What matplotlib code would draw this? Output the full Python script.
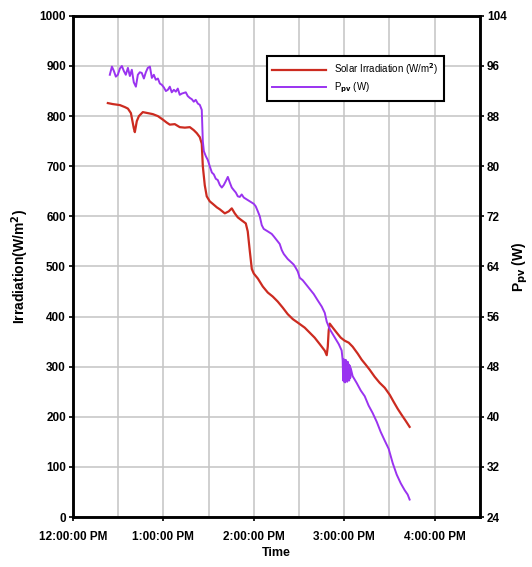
import matplotlib
matplotlib.use("Agg")
import matplotlib.pyplot as plt
from matplotlib.ticker import FixedLocator, MultipleLocator

# Minutes after 12:00:00 PM and measured solar irradiation (W/m^2)
irr_minutes = [23.2, 26.5, 31.2, 34.5, 36.5, 38.5, 40.4, 41.1, 42.4, 43.8, 46.4, 49.7,
               53.0, 56.4, 59.7, 62.3, 64.3, 67.6, 70.9, 74.3, 77.6, 80.2, 82.2, 84.2,
               85.5, 86.2, 87.5, 88.8, 90.8, 92.8, 95.5, 97.5, 100.8, 103.4, 105.4, 107.4,
               109.4, 112.0, 114.7, 116.0, 117.4, 118.7, 120.0, 122.7, 126.0, 129.3, 132.6,
               135.9, 139.2, 142.5, 145.9, 149.2, 153.8, 157.1, 160.4, 163.8, 167.1, 168.4,
               169.1, 169.7, 170.4, 172.4, 175.0, 177.7, 180.3, 183.0, 185.6, 189.0, 191.6,
               194.3, 196.9, 200.2, 203.5, 206.9, 210.2, 212.8, 215.5, 218.1, 220.8, 223.4]
irradiation = [826, 824, 822, 818, 815, 806, 776, 768, 790, 800, 808, 806,
               804, 800, 793, 787, 783, 784, 778, 777, 778, 772, 766, 758,
               745, 700, 662, 640, 630, 625, 618, 614, 606, 610, 616, 606,
               598, 592, 586, 570, 530, 495, 486, 476, 460, 448, 440,
               430, 418, 405, 395, 388, 378, 368, 358, 345, 332, 323,
               340, 372, 386, 378, 368, 358, 352, 348, 340, 326, 314,
               304, 294, 280, 268, 258, 244, 230, 216, 204, 192, 180]

# Minutes after 12:00:00 PM and PV output power (W)
pv_minutes = [24.5, 25.9, 27.2, 28.5, 29.8, 31.2, 32.5, 33.8, 35.1, 36.5, 37.8, 39.1,
              40.4, 41.8, 43.1, 44.4, 45.7, 47.1, 48.4, 49.7, 51.1, 52.4, 53.7, 55.0,
              56.4, 57.7, 59.0, 60.3, 61.7, 63.0, 64.3, 65.6, 67.0, 68.3, 69.6, 70.9,
              72.3, 73.6, 74.9, 76.2, 77.6, 78.9, 80.2, 81.5, 82.9, 84.2, 85.5, 86.2,
              86.9, 88.2, 89.5, 90.8, 92.2, 93.5, 94.8, 96.1, 97.5, 98.8, 100.1, 101.4,
              102.8, 104.1, 105.4, 106.7, 108.1, 109.4, 110.7, 112.0, 113.4, 114.7, 116.0,
              117.4, 118.7, 120.0, 121.3, 122.7, 124.0, 125.3, 126.6, 128.0, 129.3, 130.6,
              131.9, 133.3, 134.6, 135.9, 137.2, 138.6, 139.9, 141.2, 142.5, 143.9, 145.2,
              146.5, 147.8, 149.2, 150.5, 152.5, 154.5, 157.1, 159.8, 162.4, 165.1, 167.1,
              168.4, 170.4, 172.4, 174.4, 176.4, 178.3,
              179.0, 179.3, 179.7, 180.0, 180.3, 180.6, 181.0, 181.3, 181.6, 182.0, 182.3,
              182.6, 182.9, 183.3, 183.6, 184.0, 184.3,
              185.6, 188.3, 191.0, 193.6, 196.2, 198.9, 201.6, 204.2, 206.9, 209.5, 212.2,
              214.8, 217.5, 220.1, 222.1, 223.4]
pv_power = [94.6, 95.9, 95.2, 94.3, 94.6, 95.6, 96.0, 95.2, 94.6, 95.7, 94.4, 95.4,
            93.4, 92.7, 94.6, 95.0, 94.9, 94.0, 95.0, 95.7, 95.9, 94.1, 94.6, 93.8,
            94.0, 93.2, 93.0, 92.6, 92.0, 92.2, 92.7, 91.8, 92.2, 91.9, 92.4, 91.4,
            91.6, 91.7, 91.8, 91.2, 90.9, 90.7, 90.3, 90.6, 90.0, 89.8, 89.0, 84.0,
            82.4, 81.6, 81.0, 80.0, 79.0, 78.7, 78.0, 77.8, 77.0, 76.6, 77.0, 77.6,
            78.3, 77.4, 76.6, 76.2, 75.8, 75.2, 75.1, 75.5, 75.0, 74.8, 74.6,
            74.4, 74.2, 74.0, 73.6, 72.8, 72.0, 70.6, 70.0, 69.8, 69.6, 69.4,
            69.2, 68.8, 68.4, 68.0, 67.6, 66.6, 66.0, 65.6, 65.2, 64.9, 64.6,
            64.3, 63.8, 63.2, 62.2, 61.8, 61.2, 60.4, 59.6, 58.6, 57.6, 56.6,
            55.2, 54.0, 53.2, 52.4, 51.6, 50.6,
            49.0, 45.8, 49.2, 45.6, 48.9, 45.5, 49.1, 45.9, 48.7, 45.6, 48.8,
            46.0, 48.4, 45.8, 48.2, 46.2, 47.8,
            46.5, 45.4, 44.2, 43.3, 41.8, 40.6, 39.2, 37.6, 36.2, 34.9, 32.6,
            30.8, 29.4, 28.3, 27.6, 26.8]

time_ticks = [0, 60, 120, 180, 240]
time_labels = ["12:00:00 PM", "1:00:00 PM", "2:00:00 PM", "3:00:00 PM", "4:00:00 PM"]

RED = "#cc2b20"
PURPLE = "#9a33f0"
FONT = ["Liberation Sans Narrow", "Liberation Sans", "DejaVu Sans"]
plt.rcParams["font.family"] = FONT
plt.rcParams["font.weight"] = "bold"

fig = plt.figure(figsize=(5.32, 5.67), dpi=100)
ax = fig.add_axes([0.137, 0.088, 0.765, 0.884])
ax2 = ax.twinx()

ax.set_xlim(0, 270)
ax.set_ylim(0, 1000)
ax2.set_ylim(24, 104)

l1, = ax.plot(irr_minutes, irradiation, color=RED, lw=1.6)
l2, = ax2.plot(pv_minutes, pv_power, color=PURPLE, lw=1.4)

ax.xaxis.set_major_locator(FixedLocator(time_ticks))
ax.set_xticklabels(time_labels)
ax.xaxis.set_minor_locator(MultipleLocator(30))
ax.yaxis.set_major_locator(MultipleLocator(100))
ax2.yaxis.set_major_locator(MultipleLocator(8))

ax.grid(True, which="both", color="#c4c4c4", lw=1.1)
ax.set_axisbelow(True)

for a in (ax, ax2):
    for s in a.spines.values():
        s.set_linewidth(1.8)
        s.set_color("black")
ax.tick_params(axis="y", which="major", labelsize=8.5, length=3, width=1.2, pad=2)
ax.tick_params(axis="x", which="major", labelsize=8.5, length=3, width=1.2, pad=7)
ax.tick_params(axis="x", which="minor", length=0)
ax2.tick_params(axis="y", labelsize=8.5, length=3, width=1.2, pad=2)

ax.set_ylabel("Irradiation(W/m$^2$)", fontsize=10, fontweight="bold", labelpad=6)
ax.set_xlabel("Time", fontsize=9, fontweight="bold", labelpad=3)
ax2.set_ylabel(r"P$_{\mathrm{pv}}$ (W)", fontsize=10, fontweight="bold", labelpad=3)

leg = ax.legend([l1, l2], ["Solar Irradiation (W/m$^2$)", r"P$_{\mathrm{pv}}$ (W)"],
                loc="upper left", bbox_to_anchor=(0.464, 0.93), fancybox=False,
                framealpha=1, edgecolor="black", fontsize=7, handlelength=5.5,
                borderpad=0.6, labelspacing=0.3)
leg.get_frame().set_linewidth(1.5)
for t in leg.get_texts():
    t.set_fontweight("normal")

fig.savefig("out.png", dpi=100)
